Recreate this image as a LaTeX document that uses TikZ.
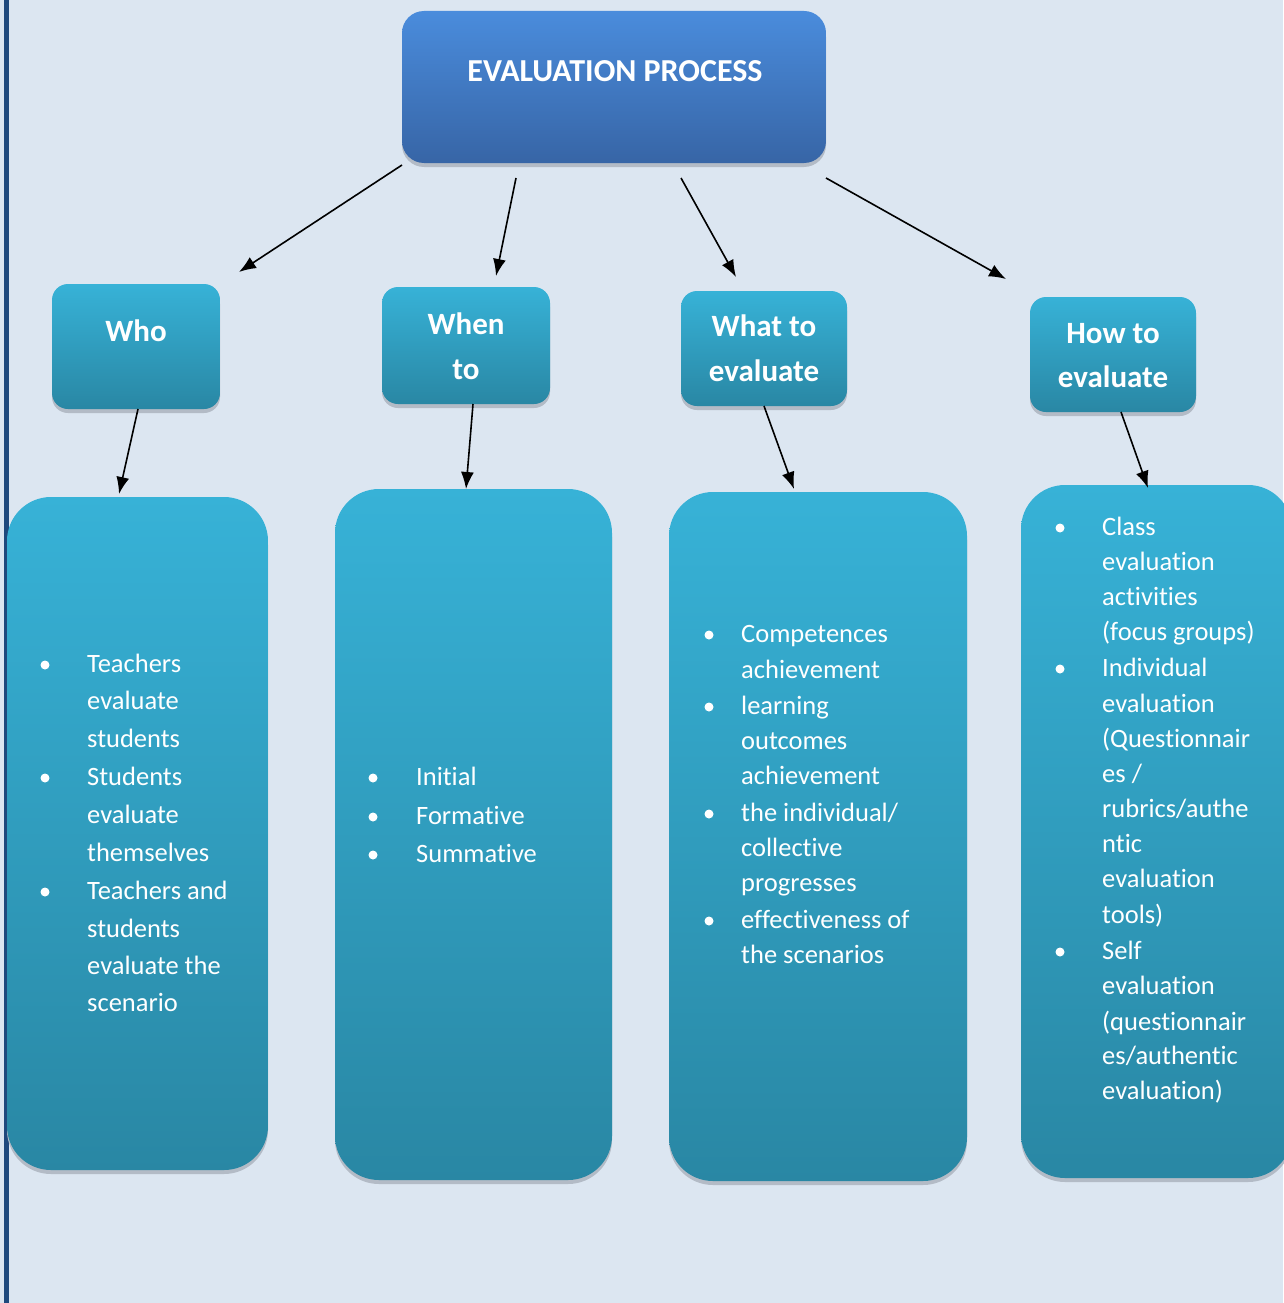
\documentclass[tikz,border=0pt]{standalone}
\usepackage{fontspec}
\setmainfont[Ligatures={NoCommon}]{Carlito}
\usetikzlibrary{shadows,arrows.meta}
\definecolor{bg}{HTML}{DCE6F1}
\definecolor{edgeblue}{HTML}{1F497D}
\definecolor{tbtop}{HTML}{4A8CDC}
\definecolor{tbbot}{HTML}{3765A6}
\definecolor{cytop}{HTML}{37B2D7}
\definecolor{cybot}{HTML}{2987A4}
\definecolor{shgray}{HTML}{B3BBC6}
\newcommand\itm[4]{\node[listtext] (#1) at (#2,#3) {#4};}
\newcommand\bul[3]{\node[bulletdot] (#1) at (#2,#3) {};}
\begin{document}
\begin{tikzpicture}[x=1pt,y=-1pt,
  topbox/.style={rectangle, rounded corners=22pt, inner sep=0pt, top color=tbtop, bottom color=tbbot, draw=none,
    drop shadow={shadow xshift=0pt, shadow yshift=-4pt, fill=shgray, opacity=1}},
  headbox/.style={rectangle, rounded corners=16pt, inner sep=0pt, top color=cytop, bottom color=cybot, draw=none,
    drop shadow={shadow xshift=0pt, shadow yshift=-4pt, fill=shgray, opacity=1}},
  listbox/.style={rectangle, rounded corners=44pt, inner sep=0pt, top color=cytop, bottom color=cybot, draw=none,
    drop shadow={shadow xshift=0pt, shadow yshift=-4pt, fill=shgray, opacity=1}},
  titletext/.style={anchor=base, text=white, inner sep=0pt, font=\fontsize{32}{38}\selectfont\bfseries},
  headtext/.style={anchor=base, text=white, inner sep=0pt, font=\fontsize{31}{36}\selectfont\bfseries},
  listtext/.style={anchor=base west, text=white, inner sep=0pt, font=\fontsize{26.5}{30}\selectfont},
  bulletdot/.style={circle, fill=white, inner sep=0pt, minimum size=9pt},
  arr/.style={-{Latex[length=17pt,width=13pt]}, line width=1.6pt, black}]
\useasboundingbox (0,0) rectangle (1283,1303);
\fill[bg] (0,0) rectangle (1283,1303);
\fill[edgeblue] (4,0) rectangle (8.5,1303);

% boxes
\node[topbox, minimum width=424pt, minimum height=152pt] (top) at (614,87) {};
\node[headbox, minimum width=168pt, minimum height=125pt] (who) at (136,346.5) {};
\node[headbox, minimum width=168pt, minimum height=117pt] (when) at (466,345.5) {};
\node[headbox, minimum width=166pt, minimum height=115pt] (what) at (764,348.5) {};
\node[headbox, minimum width=166pt, minimum height=115pt] (how) at (1113,354.5) {};
\node[listbox, minimum width=261pt, minimum height=673pt] (whoL) at (137.5,833.5) {};
\node[listbox, minimum width=277pt, minimum height=691pt] (whenL) at (473.5,834.5) {};
\node[listbox, minimum width=298pt, minimum height=689pt] (whatL) at (818,836.5) {};
\node[listbox, minimum width=271pt, minimum height=693pt] (howL) at (1156.5,831.5) {};

% titles
\node[titletext] (ttl) at (615,82) {EVALUATION PROCESS};
\node[headtext] (h1) at (136,341) {Who};
\node[headtext] (h2a) at (466,334) {When};
\node[headtext] (h2b) at (466,379) {to};
\node[headtext] (h3a) at (764,336) {What to};
\node[headtext] (h3b) at (764,381) {evaluate};
\node[headtext] (h4a) at (1113,343) {How to};
\node[headtext] (h4b) at (1113,387) {evaluate};

% arrow endpoints
\coordinate (a1s) at (402,165); \coordinate (a1e) at (239,272);
\coordinate (a2s) at (516,178); \coordinate (a2e) at (496,276);
\coordinate (a3s) at (681,178); \coordinate (a3e) at (736,277);
\coordinate (a4s) at (826,178); \coordinate (a4e) at (1006,279);
\coordinate (b1s) at (138,409); \coordinate (b1e) at (119,494);
\coordinate (b2s) at (473,404); \coordinate (b2e) at (466,489);
\coordinate (b3s) at (764,406); \coordinate (b3e) at (794,489);
\coordinate (b4s) at (1121,412); \coordinate (b4e) at (1148,488);
\draw[arr] (a1s) -- (a1e);
\draw[arr] (a2s) -- (a2e);
\draw[arr] (a3s) -- (a3e);
\draw[arr] (a4s) -- (a4e);
\draw[arr] (b1s) -- (b1e);
\draw[arr] (b2s) -- (b2e);
\draw[arr] (b3s) -- (b3e);
\draw[arr] (b4s) -- (b4e);

% Who list
\bul{wb1}{45}{665}\bul{wb2}{45}{778}\bul{wb3}{45}{892}
\itm{w1}{87}{672}{Teachers}
\itm{w2}{87}{709}{evaluate}
\itm{w3}{87}{747}{students}
\itm{w4}{87}{785}{Students}
\itm{w5}{87}{823}{evaluate}
\itm{w6}{87}{861}{themselves}
\itm{w7}{87}{899}{Teachers and}
\itm{w8}{87}{937}{students}
\itm{w9}{87}{974}{evaluate the}
\itm{w10}{87}{1011}{scenario}

% When list
\bul{nb1}{373}{778}\bul{nb2}{373}{817}\bul{nb3}{373}{855}
\itm{n1}{416}{785}{Initial}
\itm{n2}{416}{824}{Formative}
\itm{n3}{416}{862}{Summative}

% What list
\bul{tb1}{709}{635}\bul{tb2}{709}{707}\bul{tb3}{709}{814}\bul{tb4}{709}{921}
\itm{t1}{741}{642}{Competences}
\itm{t2}{741}{678}{achievement}
\itm{t3}{741}{714}{learning}
\itm{t4}{741}{749}{outcomes}
\itm{t5}{741}{784}{achievement}
\itm{t6}{741}{821}{the individual/}
\itm{t7}{741}{856}{collective}
\itm{t8}{741}{891}{progresses}
\itm{t9}{741}{928}{effectiveness of}
\itm{t10}{741}{963}{the scenarios}

% How list
\bul{hb1}{1060}{528}\bul{hb2}{1060}{669}\bul{hb3}{1060}{952}
\itm{o1}{1102}{535}{Class}
\itm{o2}{1102}{570}{evaluation}
\itm{o3}{1102}{605}{activities}
\itm{o4}{1102}{640}{(focus groups)}
\itm{o5}{1102}{676}{Individual}
\itm{o6}{1102}{712}{evaluation}
\itm{o7}{1102}{747}{(Questionnair}
\itm{o8}{1102}{782}{es /}
\itm{o9}{1102}{817}{rubrics/authe}
\itm{o10}{1102}{852}{ntic}
\itm{o11}{1102}{887}{evaluation}
\itm{o12}{1102}{923}{tools)}
\itm{o13}{1102}{959}{Self}
\itm{o14}{1102}{994}{evaluation}
\itm{o15}{1102}{1030}{(questionnair}
\itm{o16}{1102}{1064}{es/authentic}
\itm{o17}{1102}{1099}{evaluation)}
\end{tikzpicture}
\end{document}
